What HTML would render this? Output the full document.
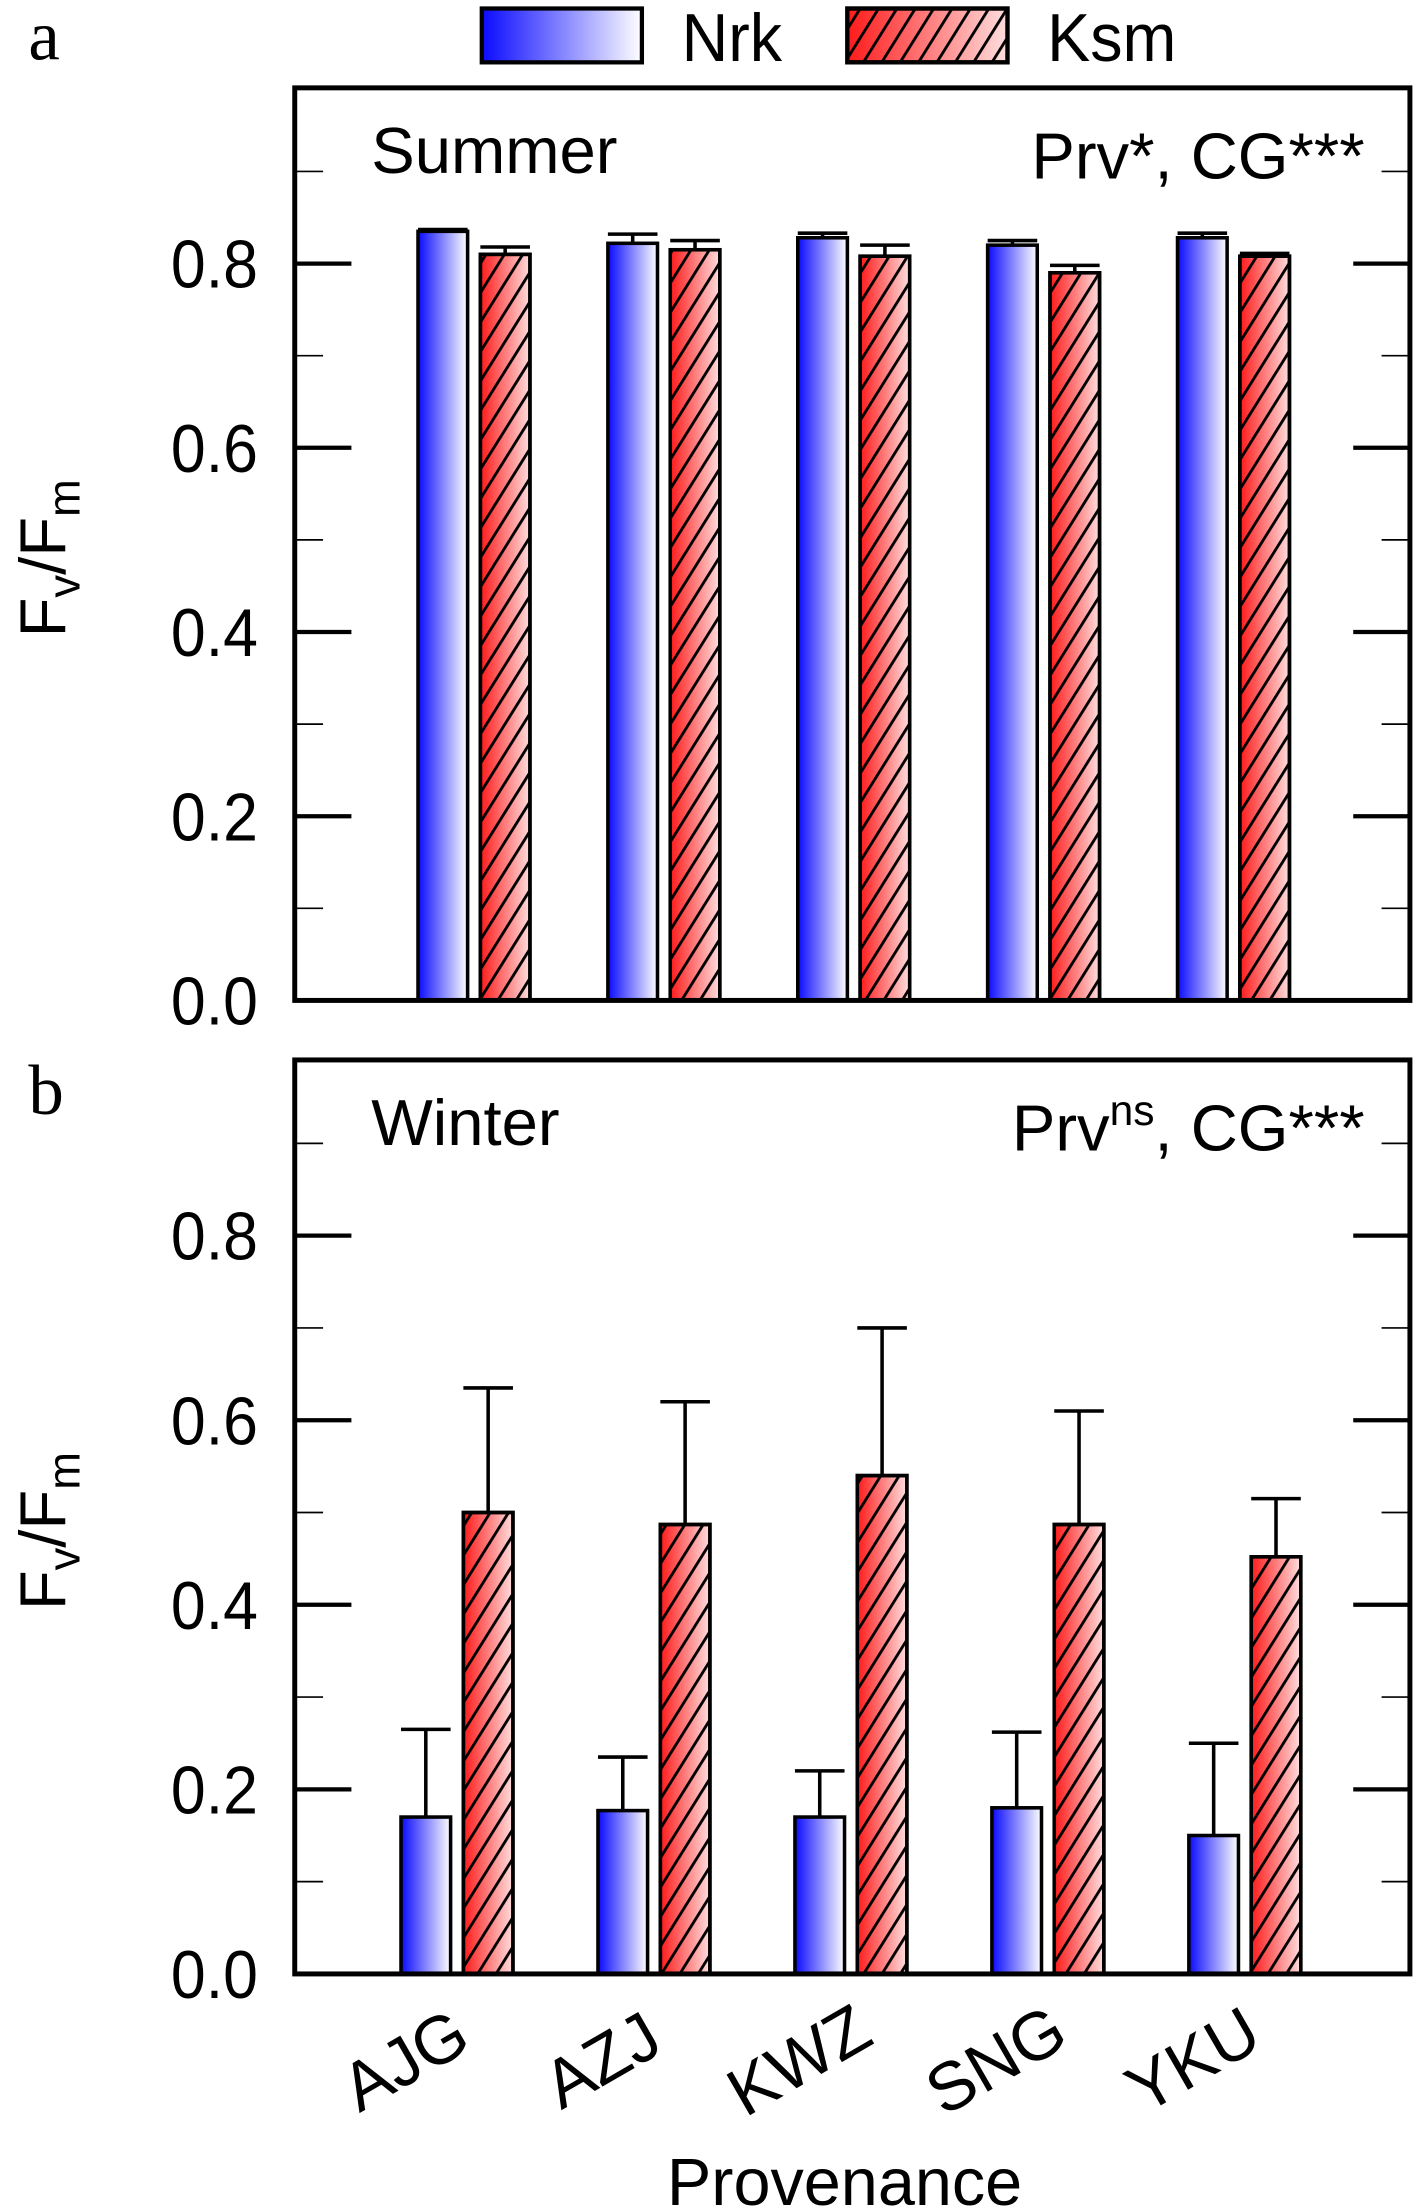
<!DOCTYPE html>
<html><head><meta charset="utf-8"><style>
html,body{margin:0;padding:0;background:#fff}
svg{display:block}
text{font-family:"Liberation Sans",sans-serif;fill:#000}
</style></head><body>
<svg id="chart" width="1417" height="2211" viewBox="0 0 1000 1560.3" preserveAspectRatio="none" xmlns="http://www.w3.org/2000/svg">
<defs>
<linearGradient id="gBlue" x1="0" x2="1" y1="0" y2="0"><stop offset="0" stop-color="#0a0aff"/><stop offset="1" stop-color="#ffffff"/></linearGradient>
<linearGradient id="gRed" x1="0" x2="1" y1="0" y2="0"><stop offset="0" stop-color="#ff1a1a"/><stop offset="1" stop-color="#ffdede"/></linearGradient>
<pattern id="hatch" patternUnits="userSpaceOnUse" width="11" height="11" patternTransform="rotate(32)"><line x1="1" y1="0" x2="1" y2="11" stroke="#000" stroke-width="2"/></pattern>
</defs>
<g id="legend">
<rect x="340" y="6" width="113" height="38" fill="url(#gBlue)" stroke="#000" stroke-width="3"/>
<text transform="translate(481,43) scale(0.95,1)" font-size="48">Nrk</text>
<rect x="598" y="6" width="113" height="38" fill="url(#gRed)" stroke="#000" stroke-width="3"/>
<rect x="598" y="6" width="113" height="38" fill="url(#hatch)" stroke="#000" stroke-width="3"/>
<text transform="translate(739,43) scale(0.95,1)" font-size="48">Ksm</text>
</g>
<text x="20" y="42" font-size="50" style="font-family:'Liberation Serif',serif">a</text>
<text x="20" y="786" font-size="50" style="font-family:'Liberation Serif',serif">b</text>
<text transform="translate(596,1556) scale(1,1)" font-size="47" text-anchor="middle">Provenance</text>
</svg>
<script>
const categories=["AJG","AZJ","KWZ","SNG","YKU"];
const summerNrk=[0.835,0.822,0.828,0.820,0.828];
const summerNrkErr=[0.002,0.010,0.005,0.005,0.005];
const summerKsm=[0.810,0.815,0.808,0.790,0.808];
const summerKsmErr=[0.008,0.010,0.012,0.008,0.003];
const winterNrk=[0.170,0.177,0.170,0.180,0.150];
const winterNrkErr=[0.095,0.058,0.050,0.082,0.100];
const winterKsm=[0.500,0.487,0.540,0.487,0.452];
const winterKsmErr=[0.135,0.133,0.160,0.123,0.063];
const yTicks=["0.0","0.2","0.4","0.6","0.8"];

const svg=document.getElementById('chart');
const NS="http://www.w3.org/2000/svg";
function mk(tag,attrs,parent){const e=document.createElementNS(NS,tag);for(const k in attrs)e.setAttribute(k,attrs[k]);(parent||svg).appendChild(e);return e;}

function panel(name,top,bottom,y0,y08,nrk,nrkE,ksm,ksmE,x0,step,title,sup){
  const g=mk('g',{});
  
  
  const L=208,R=995;
  const yS=v=>y0-(y0-y08)*v/0.8;
  const bw=35;
  categories.forEach((c,i)=>{
    const xn=x0+i*step, xk=xn+bw+9;
    [[xn,nrk[i],nrkE[i],'url(#gBlue)',false,'nrk'],[xk,ksm[i],ksmE[i],'url(#gRed)',true,'ksm']].forEach(([x,v,e,fill,h,s])=>{
      const eb=mk('path',{d:`M${x+bw/2},${yS(v)} V${yS(v+e)} M${x},${yS(v+e)} H${x+bw}`,stroke:'#000','stroke-width':2.5,fill:'none'},g);
      
      
      const b=mk('rect',{x:x,y:yS(v),width:bw,height:y0-yS(v),fill:fill,stroke:'#000','stroke-width':2.5},g);
      
      
      if(h){mk('rect',{x:x,y:yS(v),width:bw,height:y0-yS(v),fill:'url(#hatch)',stroke:'#000','stroke-width':2.5},g);}
    });
  });
  for(let k=0;k<=9;k++){
    const v=k*0.1,y=yS(v);if(y<top+5)continue;
    const maj=k%2==0;
    const len=maj?40:20, sw=maj?3:1.2;
    mk('line',{x1:L,x2:L+len,y1:y,y2:y,stroke:'#000','stroke-width':sw},g);
    mk('line',{x1:R-len,x2:R,y1:y,y2:y,stroke:'#000','stroke-width':sw},g);
  }
  yTicks.forEach((t,i)=>{
    const tl=mk('text',{transform:`translate(182,${yS(i*0.2)+17}) scale(0.92,1)`,'font-size':48,'text-anchor':'end'},g);
    tl.textContent=t;
    
    
  });
  const box=mk('rect',{x:L,y:top,width:R-L,height:bottom-top,fill:'none',stroke:'#000','stroke-width':3.5},g);
  
  
  const yt=mk('text',{transform:`translate(46,${(top+bottom)/2+10}) rotate(-90)`,'font-size':46,'text-anchor':'middle'},g);
  yt.innerHTML='F<tspan font-size="32" dy="10">v</tspan><tspan dy="-10">/F</tspan><tspan font-size="32" dy="10">m</tspan>';
  
  
  const ti=mk('text',{transform:`translate(262,${top+60})`,'font-size':46},g);ti.textContent=title;
  
  
  const st=mk('text',{transform:`translate(963,${top+64})`,'font-size':46,'text-anchor':'end'},g);
  st.innerHTML=sup?'Prv<tspan font-size="30" dy="-18">ns</tspan><tspan dy="18">, CG***</tspan>':'Prv*, CG***';
  
  
}
panel('panel-summer',62,706,706,186,summerNrk,summerNrkErr,summerKsm,summerKsmErr,295,134,'Summer',false);
panel('panel-winter',748,1393,1393,872,winterNrk,winterNrkErr,winterKsm,winterKsmErr,283,139,'Winter',true);
categories.forEach((c,i)=>{
  const cx=318+i*139;
  const t=mk('text',{transform:`translate(${cx-24},${1468}) rotate(-30)`,'font-size':48,'text-anchor':'middle'});
  t.textContent=c;
  
  
});
</script>
</body></html>
